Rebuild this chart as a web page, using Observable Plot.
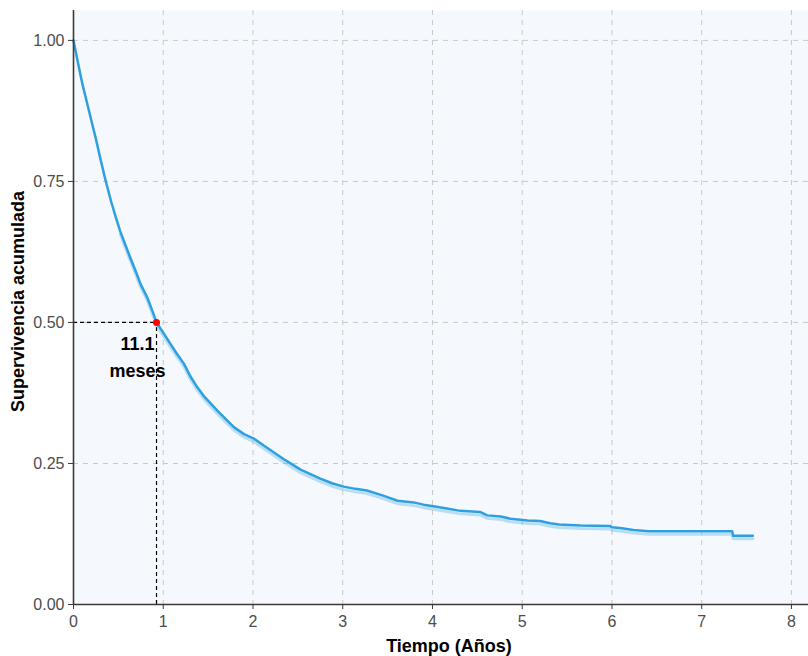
<!DOCTYPE html>
<html>
<head>
<meta charset="utf-8">
<script src="https://cdn.jsdelivr.net/npm/d3@7"></script>
<script src="https://cdn.jsdelivr.net/npm/@observablehq/plot@0.6"></script>
<style>
  body { margin: 0; background: #ffffff; }
  #chart svg { display: block; }
</style>
</head>
<body>
<div id="chart"></div>
<script>
// Kaplan-Meier estimate (time in years, cumulative survival)
const years = [0, 0.05, 0.1, 0.15, 0.2, 0.25, 0.3, 0.36, 0.42, 0.47, 0.52, 0.56, 0.62, 0.69, 0.75, 0.82, 0.88, 0.925,
  1.0, 1.08, 1.15, 1.23, 1.3, 1.38, 1.46, 1.53, 1.6, 1.7, 1.79, 1.9, 2.01, 2.12, 2.23, 2.34, 2.45, 2.53, 2.64, 2.75,
  2.88, 3.01, 3.14, 3.27, 3.45, 3.61, 3.79, 3.9, 4.01, 4.16, 4.31, 4.53, 4.61, 4.76, 4.87, 5.06, 5.2, 5.31, 5.41,
  5.65, 5.98, 6.0, 6.11, 6.24, 6.41, 7.34, 7.35, 7.57];
const survival = [1.0, 0.96, 0.922, 0.89, 0.857, 0.825, 0.79, 0.75, 0.714, 0.687, 0.662, 0.645, 0.62, 0.592, 0.567, 0.545, 0.52, 0.50,
  0.482, 0.462, 0.445, 0.427, 0.405, 0.385, 0.368, 0.356, 0.344, 0.328, 0.314, 0.302, 0.294, 0.282, 0.27, 0.258, 0.247, 0.239, 0.231, 0.223,
  0.215, 0.209, 0.205, 0.202, 0.193, 0.184, 0.181, 0.177, 0.174, 0.170, 0.166, 0.164, 0.158, 0.156, 0.152, 0.149, 0.148, 0.144, 0.142,
  0.140, 0.139, 0.137, 0.135, 0.132, 0.130, 0.130, 0.122, 0.122];
const xTicks = [0, 1, 2, 3, 4, 5, 6, 7, 8];
const yTicks = [0, 0.25, 0.5, 0.75, 1.0];
const medianMonths = 11.1;
const medianSurvival = 0.5;
const annotation = ["11.1", "meses"];
const xTitle = "Tiempo (Años)";
const yTitle = "Supervivencia acumulada";

const km = years.map((t, i) => ({t, s: survival[i]}));
const medianYears = medianMonths / 12;
const curveColor = "#2E9FDF";
const font = "'Liberation Sans', Arial, sans-serif";

const chart = Plot.plot({
  width: 808,
  height: 656,
  marginLeft: 73,
  marginRight: 0,
  marginTop: 10,
  marginBottom: 52,
  style: {fontFamily: font, background: "#ffffff"},
  x: {domain: [0, 8.19]},
  y: {domain: [0, 1.053]},
  marks: [
    Plot.frame({fill: "#F5F9FD", stroke: null}),
    Plot.gridX(xTicks.filter(d => d > 0), {stroke: "#c9c9c9", strokeOpacity: 1, strokeDasharray: "5,5", strokeWidth: 1}),
    Plot.gridY(yTicks.filter(d => d > 0), {stroke: "#c9c9c9", strokeOpacity: 1, strokeDasharray: "5,5", strokeWidth: 1}),
    Plot.ruleY([{y: medianSurvival, x1: 0, x2: medianYears}], {y: "y", x1: "x1", x2: "x2", stroke: "#000", strokeDasharray: "4,3", strokeWidth: 1.2}),
    Plot.ruleX([{x: medianYears, y1: 0, y2: medianSurvival}], {x: "x", y1: "y1", y2: "y2", stroke: "#000", strokeDasharray: "4,3", strokeWidth: 1.2}),
    Plot.line(km.filter(d => d.t >= 0.5), {x: "t", y: "s", curve: "linear", stroke: curveColor, strokeOpacity: 0.3, strokeWidth: 3, dy: 3}),
    Plot.line(km, {x: "t", y: "s", curve: "linear", stroke: curveColor, strokeWidth: 2.5}),
    Plot.dot([{x: medianYears, y: medianSurvival}], {x: "x", y: "y", r: 3.5, fill: "#ff0000", stroke: null}),
    Plot.text([annotation[0]], {x: () => medianYears, y: () => medianSurvival, text: d => d, dx: -19, dy: 22,
      fontSize: 18, fontWeight: "bold", fill: "#000", textAnchor: "middle"}),
    Plot.text([annotation[1]], {x: () => medianYears, y: () => medianSurvival, text: d => d, dx: -19, dy: 49,
      fontSize: 18, fontWeight: "bold", fill: "#000", textAnchor: "middle"}),
    Plot.ruleX([0], {stroke: "#3a3a3a", strokeWidth: 1.6}),
    Plot.ruleY([0], {stroke: "#3a3a3a", strokeWidth: 1.6}),
    Plot.axisX(xTicks, {tickSize: 5, tickPadding: 6, tickFormat: d => String(d), fontSize: 16,
      fill: "#4d4d4d", stroke: "#3a3a3a", label: null}),
    Plot.axisY(yTicks, {tickSize: 5, tickPadding: 4, tickFormat: d3.format(".2f"), fontSize: 16,
      fill: "#4d4d4d", stroke: "#3a3a3a", label: null}),
    Plot.text([xTitle], {frameAnchor: "bottom", text: d => d, dx: 8, dy: 42, fontSize: 18, fontWeight: "bold",
      fill: "#000", textAnchor: "middle", lineAnchor: "middle"}),
    Plot.text([yTitle], {frameAnchor: "left", text: d => d, dx: -55, dy: -6, rotate: -90, fontSize: 18,
      fontWeight: "bold", fill: "#000", textAnchor: "middle", lineAnchor: "middle"})
  ]
});
document.getElementById("chart").appendChild(chart);
</script>
</body>
</html>
